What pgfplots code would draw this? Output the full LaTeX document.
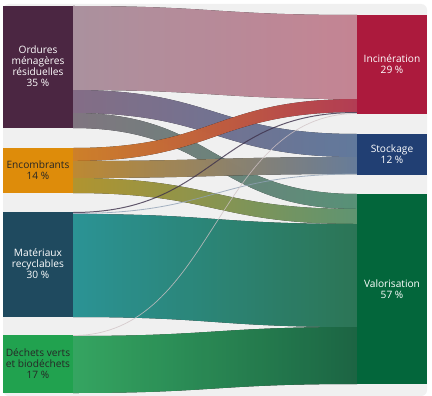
\documentclass[border=0pt]{standalone}
\usepackage{pgfplots}
\pgfplotsset{compat=1.18}
\usepackage{fontspec}
\setmainfont{Open Sans}
\definecolor{bg}{HTML}{F0F0F0}
\definecolor{omr}{HTML}{4B2642}
\definecolor{enc}{HTML}{DE8C0A}
\definecolor{mat}{HTML}{1F4A5F}
\definecolor{dv}{HTML}{21A24F}
\definecolor{inc}{HTML}{AC1A3D}
\definecolor{sto}{HTML}{213F73}
\definecolor{val}{HTML}{03663B}
% flow gradient colours
\definecolor{fOIa}{HTML}{B89CAA}\definecolor{fOIb}{HTML}{D48E9F}
\definecolor{fOSa}{HTML}{8E7590}\definecolor{fOSb}{HTML}{6882A8}
\definecolor{fOVa}{HTML}{8A7E8A}\definecolor{fOVb}{HTML}{5E9C80}
\definecolor{fEIa}{HTML}{DD8A2C}\definecolor{fEIb}{HTML}{C0405A}
\definecolor{fESa}{HTML}{CC9436}\definecolor{fESb}{HTML}{6E86A6}
\definecolor{fEVa}{HTML}{BFA032}\definecolor{fEVb}{HTML}{66A07A}
\definecolor{fMVa}{HTML}{2E9EA0}\definecolor{fMVb}{HTML}{2F7E5C}
\definecolor{fDVa}{HTML}{38B268}\definecolor{fDVb}{HTML}{1D6C48}
% #1 left top, #2 right top, #3 width, #4 #5 colours
\newcommand{\flow}[5]{%
  \fill[left color=#4,right color=#5,fill opacity=0.92]
    (axis cs:73,#1) .. controls (axis cs:215,#1) and (axis cs:215,#2) .. (axis cs:357,#2)
    -- (axis cs:357,{#2+#3})
    .. controls (axis cs:215,{#2+#3}) and (axis cs:215,{#1+#3}) .. (axis cs:73,{#1+#3}) -- cycle;}
\newcommand{\thinflow}[4]{%
  \draw[#4,line width=#3,opacity=0.8]
    (axis cs:73,#1) .. controls (axis cs:215,#1) and (axis cs:215,#2) .. (axis cs:357,#2);}
\begin{document}
\begin{tikzpicture}
\begin{axis}[scale only axis, width=432bp, height=396bp,
  xmin=0, xmax=432, ymin=0, ymax=396, y dir=reverse,
  hide axis, clip=false]
\fill[white] (axis cs:0,0) rectangle (axis cs:432,396);
\fill[bg, rounded corners=6bp] (axis cs:3,4) rectangle (axis cs:427,396);
% flows: left top, right top, width (px, 1 % = 3.45 px)
\flow{6}{15}{84}{fOIa}{fOIb}
\flow{90}{134}{23}{fOSa}{fOSb}
\flow{113}{194}{15}{fOVa}{fOVb}
\flow{148}{99}{13}{fEIa}{fEIb}
\flow{161}{157}{17}{fESa}{fESb}
\flow{178}{209}{15}{fEVa}{fEVb}
\flow{214}{224}{103}{fMVa}{fMVb}
\flow{336}{327}{57}{fDVa}{fDVb}
\thinflow{212.5}{112.5}{1bp}{omr!70!mat}
\thinflow{213.5}{174}{0.8bp}{mat!40!sto!50!white}
\thinflow{335.5}{113.5}{0.7bp}{inc!25!gray!40!white}
% nodes
\fill[omr] (axis cs:3,6) rectangle (axis cs:73,128);
\fill[enc] (axis cs:3,148) rectangle (axis cs:73,193);
\fill[mat] (axis cs:3,212) rectangle (axis cs:73,317);
\fill[dv] (axis cs:3,335) rectangle (axis cs:73,393);
\fill[inc] (axis cs:357,15) rectangle (axis cs:427,114);
\fill[sto] (axis cs:357,134) rectangle (axis cs:427,175);
\fill[val] (axis cs:357,194) rectangle (axis cs:427,384);
\tikzset{lab/.style={align=center, font=\fontsize{10.2}{11}\selectfont, inner sep=0pt}}
\node[lab,text=white] at (axis cs:38,66) {Ordures\\ménagères\\résiduelles\\35~\%};
\node[lab,text=black!85] at (axis cs:38,170.5) {Encombrants\\14~\%};
\node[lab,text=white] at (axis cs:38,264) {Matériaux\\recyclables\\30~\%};
\node[lab,text=black!85] at (axis cs:38,364) {Déchets verts\\et biodéchets\\17~\%};
\node[lab,text=white] at (axis cs:392,64.5) {Incinération\\29~\%};
\node[lab,text=white] at (axis cs:392,154.5) {Stockage\\12~\%};
\node[lab,text=white] at (axis cs:392,289) {Valorisation\\57~\%};
\end{axis}
\end{tikzpicture}
\end{document}
